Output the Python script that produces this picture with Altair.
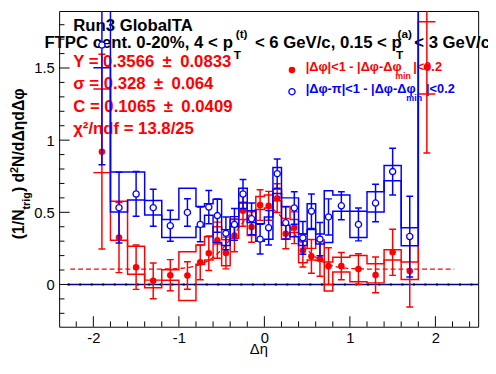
import numpy as np
import pandas as pd
import altair as alt

# ---------------- data ----------------
eta = [-1.9, -1.7, -1.5, -1.3, -1.1, -0.9, -0.75, -0.65, -0.55, -0.45, -0.35, -0.25, -0.15, -0.05,
       0.05, 0.15, 0.25, 0.35, 0.45, 0.55, 0.65, 0.75, 0.9, 1.1, 1.3, 1.5, 1.7, 1.9]
edges = [-2.0, -1.8, -1.6, -1.4, -1.2, -1.0, -0.8, -0.7, -0.6, -0.5, -0.4, -0.3, -0.2, -0.1, 0.0,
         0.1, 0.2, 0.3, 0.4, 0.5, 0.6, 0.7, 0.8, 1.0, 1.2, 1.4, 1.6, 1.8, 2.0]

# near side  |dphi|<1  (red, filled)
near_y = [0.92, 0.325, 0.12, 0.025, 0.064, 0.062, 0.153, 0.216, 0.307, 0.218, 0.34, 0.51, 0.398, 0.55,
          0.545, 0.598, 0.352, 0.393, 0.236, 0.195, 0.177, 0.127, 0.127, 0.107, 0.066, 0.223, 0.093, 1.506]
near_err = [0.675, 0.243, 0.154, 0.124, 0.108, 0.095, 0.12, 0.12, 0.125, 0.11, 0.114, 0.107, 0.105, 0.106,
            0.1, 0.1, 0.105, 0.11, 0.115, 0.117, 0.12, 0.128, 0.095, 0.106, 0.124, 0.16, 0.25, 0.595]
near_sys_lo = [0.775, 0.307, 0.07, -0.023, 0.029, -0.111, 0.14, 0.17, 0.28, 0.13, 0.32, 0.45, 0.34, 0.52,
               0.53, 0.58, 0.314, 0.36, 0.15, 0.17, 0.166, -0.045, 0.087, 0.018, 0.011, 0.17, 0.034, 1.32]
near_sys_hi = [1.354, 0.577, 0.264, 0.03, 0.102, 0.227, 0.273, 0.33, 0.40, 0.31, 0.45, 0.57, 0.45, 0.61,
               0.62, 0.66, 0.54, 0.45, 0.30, 0.25, 0.309, 0.155, 0.189, 0.2, 0.143, 0.24, 0.155, 1.82]

# away side |dphi-pi|<1 (blue, open)
far_y = [1.659, 0.532, 0.627, 0.532, 0.407, 0.499, 0.416, 0.536, 0.477, 0.354, 0.416, 0.627, 0.455, 0.314,
         0.393, 0.768, 0.427, 0.53, 0.323, 0.507, 0.314, 0.468, 0.545, 0.416, 0.564, 0.782, 0.332, None]
far_err = [0.83, 0.245, 0.155, 0.128, 0.107, 0.095, 0.12, 0.115, 0.115, 0.113, 0.11, 0.1, 0.11, 0.103,
           0.12, 0.102, 0.112, 0.113, 0.113, 0.12, 0.115, 0.125, 0.097, 0.114, 0.13, 0.162, 0.28, None]
far_sys_lo = [1.502, 0.502, 0.586, 0.482, 0.325, 0.325, 0.40, 0.48, 0.29, 0.27, 0.40, 0.564, 0.43, 0.30,
              0.314, 0.63, 0.41, 0.33, 0.27, 0.38, 0.28, 0.29, 0.507, 0.325, 0.502, 0.718, 0.268, 2.2]
far_sys_hi = [2.3, 0.779, 0.779, 0.582, 0.45, 0.666, 0.54, 0.56, 0.59, 0.38, 0.47, 0.666, 0.51, 0.42,
              0.468, 0.81, 0.60, 0.60, 0.35, 0.56, 0.35, 0.65, 0.62, 0.507, 0.643, 0.825, 0.393, 2.6]

# fit parameters shown on the chart
fit_Y = 0.3566
fit_sigma = 0.328
fit_C = 0.1065
fit_range = [-2.27, 2.22]
zero_line_range = [-2.3, 2.5]

x_major = [-2, -1, 0, 1, 2]
x_minor = [-2.2, -1.8, -1.6, -1.4, -1.2, -0.8, -0.6, -0.4, -0.2, 0.2, 0.4, 0.6, 0.8,
           1.2, 1.4, 1.6, 1.8, 2.2, 2.4]
y_major = [0, 0.5, 1, 1.5]
y_minor = [-0.2, -0.1, 0.1, 0.2, 0.3, 0.4, 0.6, 0.7, 0.8, 0.9, 1.1, 1.2, 1.3, 1.4, 1.6, 1.7, 1.8]

# ---------------- styling ----------------
RED = "#ff0000"
BLUE = "#0000ff"
FONT = "Liberation Sans"
W, H = 426, 321
LW = 1.5

XS = alt.Scale(domain=[-2.4, 2.5], nice=False, zero=False)
YS = alt.Scale(domain=[-0.293, 1.895], nice=False, zero=False)
xaxis = alt.Axis(values=x_major, labelExpr="'' + datum.value", ticks=False, domain=False, grid=False,
                 labelFont=FONT, labelFontSize=15, labelColor="black", labelPadding=4, title=None)
yaxis = alt.Axis(values=y_major, labelExpr="'' + datum.value", ticks=False, domain=False, grid=False,
                 labelFont=FONT, labelFontSize=15, labelColor="black", labelPadding=5, title=None)


def X(f):
    return alt.X(f, type="quantitative", scale=XS, axis=xaxis)


def Y(f):
    return alt.Y(f, type="quantitative", scale=YS, axis=yaxis)


def series(yv, ev, lo, hi, color, open_marker):
    pts = pd.DataFrame({"eta": eta, "v": yv, "e": ev})
    pts = pts.dropna()
    pts["lo"] = pts["v"] - pts["e"]
    pts["hi"] = pts["v"] + pts["e"]
    env = pd.DataFrame({
        "x": edges + edges,
        "y": lo + [lo[-1]] + hi + [hi[-1]],
        "side": ["lo"] * len(edges) + ["hi"] * len(edges),
    })
    boxes = alt.Chart(env).mark_line(interpolate="step-after", clip=True, color=color,
                                     strokeWidth=LW).encode(x=X("x"), y=Y("y"), detail="side:N")
    err = alt.Chart(pts).mark_rule(clip=True, color=color, strokeWidth=LW).encode(
        x=X("eta"), y=Y("lo"), y2="hi")
    cap1 = alt.Chart(pts).mark_tick(orient="horizontal", size=7, thickness=LW, color=color,
                                    opacity=1, clip=True).encode(x=X("eta"), y=Y("lo"))
    cap2 = alt.Chart(pts).mark_tick(orient="horizontal", size=7, thickness=LW, color=color,
                                    opacity=1, clip=True).encode(x=X("eta"), y=Y("hi"))
    if open_marker:
        mk = alt.Chart(pts).mark_point(shape="circle", filled=True, fill="white", stroke=color,
                                       strokeWidth=1.3, size=40, opacity=1, clip=True)
    else:
        mk = alt.Chart(pts).mark_point(shape="circle", filled=True, color=color, size=44,
                                       opacity=1, clip=True)
    mk = mk.encode(x=X("eta"), y=Y("v"))
    return [boxes, err, cap1, cap2, mk]


def txt(s, x, y, size, color="black", bold=True, angle=0, align="left"):
    return alt.Chart(pd.DataFrame({"t": [s]})).mark_text(
        align=align, baseline="alphabetic", font=FONT, fontSize=size,
        fontWeight="bold" if bold else "normal", color=color, angle=angle
    ).encode(x=alt.value(x), y=alt.value(y), text="t:N")


layers = []

# ---- texts (drawn first: the data marks lie over them, as in the reference) ----
layers.append(txt("Run3 GlobalTA", 14.3, 20.3, 17))
layers.append(txt("FTPC cent. 0-20%, 4 <", -15, 37.7, 17))
layers.append(txt("p", 166.3, 37.7, 17))
layers.append(txt("T", 177.5, 48.5, 12))
layers.append(txt("(t)", 179.5, 27, 12))
layers.append(txt("< 6 GeV/c, 0.15 < p", 199, 37.7, 17))
layers.append(txt("T", 342.5, 48.5, 12))
layers.append(txt("(a)", 344, 27, 12))
layers.append(txt("< 3 GeV/c", 361, 37.7, 17))

layers.append(txt("Y = 0.3566\u2002\u00b1\u20020.0833", 14.3, 57, 17, RED))
layers.append(txt("\u03c3 = 0.328\u2002\u00b1\u20020.064", 14.3, 79.5, 17, RED))
layers.append(txt("C = 0.1065\u2002\u00b1\u20020.0409", 14.3, 102.2, 17, RED))
layers.append(txt("\u03c7\u00b2/ndf = 13.8/25", 14.3, 125, 17, RED))

layers.append(txt("|\u0394\u03c6|<1 - |\u0394\u03c6-\u0394\u03c6", 250.7, 61, 13, RED))
layers.append(txt("min", 341.7, 69, 9, RED))
layers.append(txt("|<0.2", 360, 61, 13, RED))
layers.append(txt("|\u0394\u03c6-\u03c0|<1 - |\u0394\u03c6-\u0394\u03c6", 250.7, 83.5, 13, BLUE))
layers.append(txt("min", 353, 91, 9, BLUE))
layers.append(txt("|<0.2", 373, 83.5, 13, BLUE))

layers.append(txt("\u0394\u03b7", 203, 348.5, 15, bold=False, align="center"))
yt_x = -35.5
layers.append(txt("(1/N", yt_x, 232, 16, angle=270))
layers.append(txt("trig", yt_x + 5.5, 201.8, 11, angle=270))
layers.append(txt(")", yt_x, 184.1, 16, angle=270))
layers.append(txt("d", yt_x, 174.4, 16, angle=270))
layers.append(txt("2", yt_x - 6, 164.6, 11, angle=270))
layers.append(txt("N/d\u0394\u03b7d\u0394\u03c6", yt_x, 158.5, 16, angle=270))

# ---- zero line ----
zdf = pd.DataFrame({"x1": [zero_line_range[0]], "x2": [zero_line_range[1]], "y": [0.0]})
layers.append(alt.Chart(zdf).mark_rule(color="#00008b", strokeWidth=1.5).encode(
    x=X("x1"), x2="x2", y=Y("y")))
layers.append(alt.Chart(zdf).mark_rule(color="black", strokeWidth=2, strokeDash=[2, 9.7]).encode(
    x=X("x1"), x2="x2", y=Y("y")))

# ---- fit function (Gaussian + constant) drawn from the fit parameters ----
fx = np.linspace(fit_range[0], fit_range[1], 400)
fy = fit_C + fit_Y / (np.sqrt(2 * np.pi) * fit_sigma) * np.exp(-0.5 * (fx / fit_sigma) ** 2)
fdf = pd.DataFrame({"x": fx, "y": fy})
layers.append(alt.Chart(fdf).mark_line(color=RED, strokeWidth=1.3, strokeDash=[5, 3], clip=True).encode(
    x=X("x"), y=Y("y")))

layers += series(near_y, near_err, near_sys_lo, near_sys_hi, RED, False)
layers += series(far_y, far_err, far_sys_lo, far_sys_hi, BLUE, True)

# ---- legend markers ----
one = pd.DataFrame({"a": [0]})
layers.append(alt.Chart(one).mark_point(shape="circle", filled=True, color=RED, size=44, opacity=1).encode(
    x=alt.value(236.7), y=alt.value(60)))
layers.append(alt.Chart(one).mark_point(shape="circle", filled=True, fill="white", stroke=BLUE,
                                        strokeWidth=1.3, size=40, opacity=1).encode(
    x=alt.value(236.7), y=alt.value(82)))

# ---- inward ticks ----
for vals, ln in ((x_major, 10.7), (x_minor, 5.4)):
    layers.append(alt.Chart(pd.DataFrame({"t": vals})).mark_rule(color="black", strokeWidth=1).encode(
        x=X("t"), y=alt.value(H), y2=alt.value(H - ln)))
for vals, ln in ((y_major, 10.7), (y_minor, 5.4)):
    layers.append(alt.Chart(pd.DataFrame({"t": vals})).mark_rule(color="black", strokeWidth=1).encode(
        y=Y("t"), x=alt.value(0), x2=alt.value(ln)))

chart = alt.layer(*layers).properties(
    width=W, height=H,
    autosize=alt.AutoSizeParams(type="none"),
    padding={"left": 52, "top": 0, "right": 10, "bottom": 45},
).configure_view(stroke="black", strokeWidth=1)

chart.save("out.html", embed_options={"renderer": "svg", "actions": False})
